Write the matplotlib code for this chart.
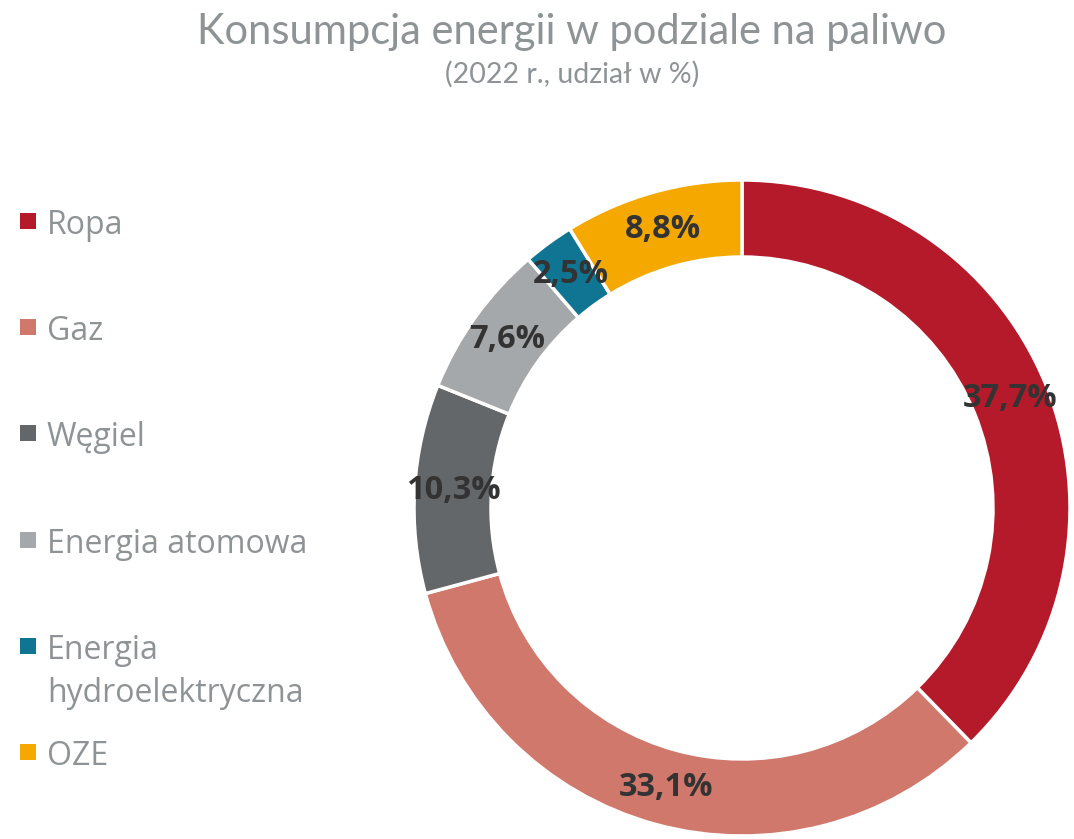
import matplotlib
matplotlib.use("Agg")
import matplotlib.pyplot as plt
from matplotlib.patches import Rectangle
import numpy as np

categories = ["Ropa", "Gaz", "Węgiel", "Energia atomowa", "Energia\nhydroelektryczna", "OZE"]
values = [37.7, 33.1, 10.3, 7.6, 2.5, 8.8]
labels = ["37,7%", "33,1%", "10,3%", "7,6%", "2,5%", "8,8%"]
colors = ["#B51A2A", "#D0786B", "#63676A", "#A5A8AA", "#107493", "#F5A800"]

W, H = 1074, 839
fig = plt.figure(figsize=(W / 100, H / 100), dpi=100)
fig.patch.set_facecolor("white")

cx, cy, R = 742, 508, 328
ax = fig.add_axes([(cx - R) / W, (H - cy - R) / H, 2 * R / W, 2 * R / H])

ring = 77 / R
wedges, _ = ax.pie(values, colors=colors, startangle=90, counterclock=False,
                   radius=1, wedgeprops=dict(width=ring, edgecolor="white", linewidth=2.5))
ax.set_xlim(-1, 1)
ax.set_ylim(-1, 1)
ax.set_aspect("equal")
ax.axis("off")

rl = 1 - ring / 2
for w, lab in zip(wedges, labels):
    ang = np.deg2rad((w.theta1 + w.theta2) / 2)
    ax.text(rl * np.cos(ang), rl * np.sin(ang), lab, ha="center", va="center",
            fontsize=23.5, fontweight="bold", color="#333333", family="Open Sans")

fig.text(572 / W, 1 - 32 / H, "Konsumpcja energii w podziale na paliwo", ha="center", va="center",
         fontsize=30, color="#8E9396", family="Lato")
fig.text(572 / W, 1 - 74 / H, "(2022 r., udział w %)", ha="center", va="center",
         fontsize=20.5, color="#8E9396", family="Lato")

y0, dy = 221, 106.2
for i, (cat, col) in enumerate(zip(categories, colors)):
    yc = y0 + i * dy
    fig.patches.append(Rectangle((20 / W, 1 - (yc + 8) / H), 16 / W, 16 / H,
                                 transform=fig.transFigure, facecolor=col, edgecolor="none"))
    fig.text(47 / W, 1 - (yc - 12) / H, cat, ha="left", va="top", fontsize=23,
             color="#8E9396", family="Open Sans", linespacing=1.42)

fig.savefig("out.png", dpi=100, facecolor="white")
